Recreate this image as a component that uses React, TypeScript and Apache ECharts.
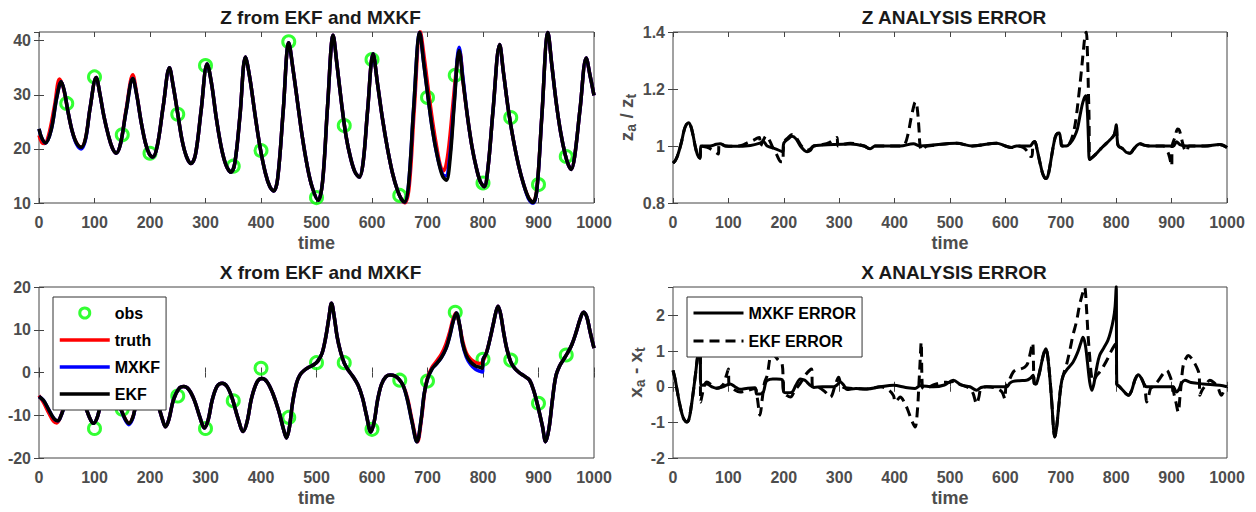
import React, { useEffect, useRef } from "react";
import * as echarts from "echarts";

type Pt = [number, number];

const FONT = "'Liberation Sans', Arial, Helvetica, sans-serif";
const BOX = "#444444";
const LABEL_COLOR = "#4d4d4d";

// ---------- titles ----------
const titleTexts = ["Z from EKF and MXKF", "Z ANALYSIS ERROR", "X from EKF and MXKF", "X ANALYSIS ERROR"];

// ---------- observations ----------
const obsTimes = [50, 100, 150, 200, 250, 300, 350, 400, 450, 500, 550, 600, 650, 700, 750, 800, 850, 900, 950];
const zObs = [28.4, 33.3, 22.6, 19.2, 26.4, 35.4, 16.8, 19.7, 39.8, 11.0, 24.3, 36.5, 11.4, 29.5, 33.6, 13.7, 25.8, 13.4, 18.6];
const xObs = [-5.3, -13.1, -8.6, -4.1, -5.5, -13.1, -6.6, 1.0, -10.5, 2.3, 2.3, -13.3, -1.8, -2.0, 14.1, 3.1, 2.9, -7.2, 4.1];

// ---------- Z (EKF) ----------
const zEkf: Pt[] = [
  [0, 23.7], [5, 22.0], [12, 21.1], [22, 23.5], [32, 29.5], [40, 32.4], [46, 30.5], [52, 27.0], [60, 23.2], [68, 21.0],
  [76, 20.3], [84, 22.0], [92, 27.5], [103, 33.2], [110, 30.0], [117, 26.0], [125, 22.5], [132, 20.2], [139, 19.2], [147, 21.0],
  [157, 27.0], [169, 33.0], [176, 30.0], [184, 25.0], [192, 21.0], [199, 19.0], [205, 18.5], [213, 20.5], [224, 28.0], [235, 35.0],
  [242, 31.5], [250, 26.5], [258, 21.5], [266, 18.5], [274, 17.3], [282, 19.0], [292, 27.0], [303, 35.7], [311, 32.0], [319, 26.0],
  [328, 20.5], [337, 17.0], [346, 15.7], [353, 17.5], [362, 26.0], [372, 37.0], [380, 33.0], [389, 26.5], [398, 20.5], [408, 15.5],
  [416, 13.0], [423, 12.2], [430, 14.5], [440, 27.0], [450, 39.6], [458, 34.5], [466, 28.5], [474, 22.5], [483, 17.0], [492, 13.0],
  [503, 10.5], [511, 14.0], [520, 28.0], [530, 41.0], [537, 35.5], [545, 28.5], [553, 22.5], [561, 18.5], [569, 15.8], [577, 14.8],
  [584, 17.5], [592, 27.0], [602, 37.6], [610, 32.0], [619, 25.5], [628, 20.0], [637, 15.5], [646, 12.3], [653, 10.7], [659, 10.2],
  [666, 13.5], [675, 27.5], [686, 41.5], [693, 36.0], [701, 29.5], [709, 23.5], [718, 18.5], [727, 15.0], [734, 14.2], [741, 18.5],
  [748, 28.0], [757, 38.2], [764, 32.5], [772, 26.0], [780, 20.5], [788, 16.5], [795, 14.0], [802, 13.0], [809, 16.5], [818, 27.0],
  [830, 39.3], [837, 34.0], [846, 27.0], [855, 21.5], [864, 17.0], [873, 13.5], [882, 11.0], [890, 10.1], [897, 12.5], [906, 26.0],
  [917, 41.5], [924, 35.5], [932, 28.5], [940, 23.0], [948, 19.0], [954, 17.0], [959, 16.2], [965, 18.5], [975, 27.5], [986, 36.8],
  [993, 33.5], [1000, 29.9],
];
// where truth / MXKF depart from the EKF curve
const zTruthParts: Pt[][] = [
  [[0, 22.5], [5, 21.2], [10, 21.0], [18, 22.8], [28, 28.0], [37, 32.9], [44, 31.2], [52, 27.0]],
  [[157, 27.3], [169, 33.7], [176, 30.2]],
  [[659, 10.0], [667, 13.0], [676, 27.0], [687, 41.7], [694, 37.0], [702, 30.5], [710, 24.5], [718, 19.5], [723, 17.0], [728, 15.9],
   [733, 16.8], [739, 21.0], [746, 28.5], [754, 36.5], [758, 38.0], [764, 32.5]],
];
const zMxParts: Pt[][] = [
  [[68, 20.8], [76, 20.0], [84, 21.8]],
  [[718, 18.5], [727, 15.3], [733, 15.0], [740, 18.5], [748, 28.5], [757, 38.8], [764, 33.0]],
  [[882, 10.8], [890, 9.9], [897, 12.3]],
];

// ---------- X (EKF) ----------
const xEkf: Pt[] = [
  [0, -5.6], [8, -6.5], [18, -8.8], [27, -10.8], [34, -11.3], [40, -10.0], [46, -7.8], [52, -6.0], [58, -4.9], [64, -4.5],
  [72, -5.2], [82, -7.5], [91, -10.5], [98, -11.9], [105, -10.5], [112, -7.0], [120, -4.9], [127, -4.4], [135, -5.2], [145, -7.8],
  [155, -10.8], [162, -11.9], [169, -10.5], [176, -7.0], [186, -4.7], [196, -4.1], [204, -4.8], [213, -7.0], [222, -10.8], [228, -12.7],
  [234, -11.0], [242, -6.5], [252, -3.8], [261, -3.3], [270, -4.0], [280, -6.5], [290, -10.5], [298, -13.0], [305, -11.0], [312, -6.5],
  [321, -3.2], [330, -2.5], [339, -3.3], [348, -6.0], [358, -10.5], [368, -13.8], [375, -11.5], [383, -6.0], [393, -2.2], [402, -1.4],
  [411, -2.2], [421, -4.8], [432, -9.0], [441, -13.5], [446, -15.3], [451, -13.0], [457, -7.0], [464, -2.5], [470, -0.6], [477, 0.4],
  [486, 1.2], [495, 1.8], [502, 2.6], [510, 4.5], [517, 8.5], [522, 12.5], [527, 16.2], [532, 13.0], [537, 8.5], [543, 5.0],
  [550, 2.2], [558, 0.4], [566, -1.0], [575, -3.0], [583, -6.0], [590, -10.0], [598, -13.9], [604, -11.5], [610, -6.5], [617, -2.8],
  [625, -1.0], [633, -0.6], [641, -0.8], [648, -1.5], [656, -3.0], [664, -6.5], [672, -11.5], [681, -16.2], [688, -11.5], [694, -5.0],
  [700, -1.5], [708, 0.8], [716, 2.0], [725, 3.5], [733, 5.5], [740, 8.5], [746, 11.8], [752, 13.9], [758, 11.0], [763, 7.0],
  [770, 4.0], [778, 2.4], [786, 1.6], [794, 1.2], [799, 1.0], [800, 3.0], [806, 4.5], [812, 7.5], [818, 11.0], [823, 14.0],
  [827, 15.5], [832, 13.5], [837, 9.5], [843, 5.5], [850, 2.5], [857, 1.0], [865, 0.0], [874, -0.8], [884, -1.8], [892, -4.5],
  [900, -8.5], [907, -12.5], [913, -16.2], [919, -13.0], [925, -6.5], [931, -1.0], [938, 1.5], [945, 3.0], [952, 4.5], [960, 6.5],
  [968, 9.5], [975, 12.5], [981, 14.1], [987, 13.0], [993, 9.5], [1000, 5.7],
];
const xTruthParts: Pt[][] = [
  [[0, -5.4], [8, -7.0], [18, -9.6], [26, -11.4], [32, -11.8], [38, -10.6], [45, -8.0], [52, -6.0]],
  [[664, -6.0], [672, -11.0], [682, -16.2], [689, -11.0], [695, -4.5], [700, -1.2], [708, 1.2], [716, 2.6], [725, 4.3], [733, 6.6],
   [740, 9.5], [746, 12.5], [751, 13.9], [757, 11.6], [763, 7.6], [770, 4.6], [778, 3.1], [786, 2.4], [794, 2.1], [800, 2.6], [806, 4.6]],
];
const xMxParts: Pt[][] = [
  [[155, -11.0], [162, -12.2], [169, -10.7]],
  [[763, 6.8], [770, 3.6], [778, 1.8], [786, 0.8], [794, 0.3], [799, 0.1], [800, 3.0]],
];

// ---------- Z analysis error ----------
const zErrMx: Pt[] = [
  [0, 0.94], [4, 0.948], [8, 0.965], [12, 0.99], [16, 1.02], [20, 1.055], [24, 1.075], [28, 1.082], [32, 1.07], [36, 1.04],
  [40, 1.0], [44, 0.97], [47, 0.96], [49, 0.957], [50, 1.0], [67, 1.0], [78, 1.006], [85, 1.008], [95, 1.0], [109, 0.999],
  [140, 1.002], [157, 1.01], [163, 1.016], [170, 1.0], [185, 0.99], [198, 0.98], [200, 1.01], [208, 1.025], [215, 1.034], [222, 1.025],
  [230, 1.0], [237, 0.985], [242, 0.98], [248, 0.985], [254, 1.0], [290, 1.005], [320, 1.007], [345, 1.0], [356, 0.99], [365, 1.0],
  [410, 1.0], [434, 1.008], [446, 1.0], [512, 1.01], [540, 1.0], [584, 1.01], [600, 1.0], [611, 0.995], [620, 1.0], [644, 1.0],
  [650, 1.012], [653, 1.016], [657, 0.99], [662, 0.945], [667, 0.905], [671, 0.888], [674, 0.886], [678, 0.905], [683, 0.96], [688, 1.015],
  [692, 1.04], [697, 1.046], [700, 1.02], [702, 1.0], [710, 1.0], [718, 1.012], [724, 1.03], [730, 1.06], [735, 1.11], [740, 1.155],
  [745, 1.176], [748, 1.12], [750, 1.02], [752, 0.953], [758, 0.962], [765, 0.975], [772, 0.99], [780, 1.005], [788, 1.02], [795, 1.035],
  [798, 1.05], [800, 1.075], [802, 1.02], [804, 1.0], [812, 0.99], [818, 0.978], [825, 0.975], [832, 0.99], [838, 1.003], [843, 1.008],
  [850, 1.003], [861, 1.0], [903, 1.0], [909, 1.015], [915, 1.005], [927, 1.0], [960, 1.0], [987, 1.005], [1000, 0.995],
];
const zErrEkfParts: Pt[][] = [
  [[50, 1.0], [62, 0.995], [72, 0.985], [82, 0.972], [83, 1.006], [85, 1.008]],
  [[109, 0.999], [125, 1.003], [135, 1.012], [145, 1.02], [152, 1.028], [156, 1.03], [158, 1.0], [163, 1.02], [168, 1.035], [174, 1.02],
   [180, 0.995], [187, 0.97], [195, 0.945], [198, 0.945], [200, 1.01], [208, 1.03], [215, 1.04], [222, 1.03], [230, 1.005], [237, 0.99],
   [242, 0.985], [248, 0.99], [254, 1.0]],
  [[254, 1.0], [270, 1.005], [282, 1.012], [292, 1.025], [296, 1.03], [298, 1.0], [320, 1.01]],
  [[410, 1.0], [418, 1.005], [424, 1.04], [430, 1.1], [436, 1.15], [438, 1.155], [441, 1.13], [444, 1.06], [446, 1.0], [449, 0.985],
   [454, 0.995], [460, 1.0]],
  [[620, 1.0], [632, 0.995], [640, 0.98], [646, 0.963], [648, 0.963], [650, 1.012]],
  [[710, 1.0], [716, 1.01], [722, 1.04], [727, 1.09], [732, 1.17], [737, 1.26], [741, 1.34], [744, 1.39], [746, 1.4], [748, 1.33],
   [750, 1.18], [751, 1.1], [752, 0.953]],
  [[861, 1.0], [885, 1.0], [893, 0.98], [897, 0.955], [900, 0.93], [901, 1.0], [906, 1.03], [911, 1.06], [914, 1.055], [918, 1.025],
   [923, 0.99], [927, 0.98], [932, 1.0], [960, 1.0]],
];

// ---------- X analysis error ----------
const xErrMx: Pt[] = [
  [0, 0.46], [4, 0.2], [8, -0.15], [12, -0.48], [16, -0.75], [20, -0.92], [25, -0.99], [29, -0.9], [33, -0.55], [37, -0.1],
  [41, 0.4], [44, 0.8], [47, 1.1], [49, 1.2], [50, 0.04], [55, 0.05], [61, 0.08], [70, 0.0], [79, -0.04], [90, 0.0],
  [103, 0.08], [112, 0.0], [121, -0.07], [135, -0.04], [148, -0.03], [151, -0.2], [157, -0.2], [163, -0.15], [167, 0.1], [170, 0.18],
  [180, 0.22], [187, 0.22], [197, 0.2], [200, -0.15], [208, -0.17], [215, -0.15], [222, 0.05], [230, 0.22], [235, 0.2], [239, 0.17],
  [247, 0.05], [254, -0.02], [270, 0.0], [290, 0.0], [296, 0.05], [302, 0.13], [308, 0.05], [314, -0.08], [330, -0.05], [350, -0.06],
  [375, 0.0], [398, 0.04], [420, -0.02], [437, -0.05], [446, 0.03], [470, 0.0], [490, 0.05], [506, 0.18], [520, 0.05], [536, 0.0],
  [548, -0.1], [556, -0.02], [566, 0.0], [602, 0.0], [608, 0.1], [614, 0.15], [625, 0.17], [638, 0.18], [645, 0.24], [650, 0.32],
  [652, 0.1], [655, 0.08], [660, 0.3], [665, 0.65], [669, 0.92], [673, 1.07], [676, 0.9], [680, 0.3], [684, -0.5], [687, -1.2],
  [689, -1.41], [692, -1.2], [696, -0.6], [700, 0.0], [704, 0.3], [712, 0.5], [722, 0.69], [730, 0.95], [736, 1.22], [740, 1.39],
  [744, 1.2], [748, 0.7], [752, 0.15], [756, -0.1], [760, 0.1], [765, 0.55], [770, 0.88], [778, 1.1], [785, 1.3], [790, 1.55],
  [795, 1.9], [798, 2.25], [800, 2.82], [801, 0.08], [806, 0.0], [812, -0.1], [818, -0.2], [822, -0.24], [828, -0.1], [834, 0.2],
  [840, 0.34], [845, 0.25], [850, 0.08], [855, 0.0], [866, 0.0], [903, 0.0], [906, -0.08], [909, -0.15], [914, -0.05], [918, 0.1],
  [924, 0.18], [935, 0.12], [957, 0.08], [987, 0.04], [1000, 0.0],
];
const xErrEkfParts: Pt[][] = [
  [[50, -0.43], [53, -0.2], [57, 0.05], [61, 0.13], [70, 0.05], [79, -0.04]],
  [[90, 0.05], [96, 0.3], [100, 0.5], [101, 0.05], [110, -0.08], [121, -0.15], [135, -0.1], [148, -0.05]],
  [[148, -0.05], [152, -0.3], [157, -0.8], [161, -0.35], [165, 0.1], [170, 0.32], [175, 0.8], [178, 0.93], [183, 0.88], [190, 0.75],
   [197, 0.64], [200, -0.15], [206, -0.25], [212, -0.29], [220, -0.1], [230, 0.1], [240, 0.35], [250, 0.5], [252, 0.0], [263, -0.02],
   [275, -0.15], [284, -0.29], [292, 0.0], [299, 0.27], [302, 0.13], [308, -0.02], [330, -0.05]],
  [[375, 0.0], [390, -0.1], [398, -0.25], [401, -0.43], [406, -0.35], [410, -0.29], [418, -0.45], [425, -0.7], [431, -0.95], [437, -1.13],
   [441, -0.7], [444, 0.1], [446, 0.7], [448, 1.25], [450, 0.0], [453, -0.06], [470, 0.05]],
  [[470, 0.05], [480, 0.1], [488, 0.13], [498, 0.12], [506, 0.15], [520, 0.05], [536, -0.05], [542, -0.2], [548, -0.48], [552, -0.3],
   [556, -0.05], [566, 0.0], [585, -0.05], [594, -0.15], [599, -0.34], [601, 0.0], [606, 0.15], [614, 0.41], [620, 0.48], [628, 0.5],
   [635, 0.55], [640, 0.65], [645, 0.95], [649, 1.23], [652, 0.1]],
  [[700, 0.0], [704, 0.3], [710, 0.6], [716, 1.0], [722, 1.45], [728, 1.81], [734, 2.3], [739, 2.6], [743, 2.79], [746, 2.3],
   [749, 1.5], [752, 0.88], [755, 0.35], [758, 0.15], [764, 0.3], [770, 0.41], [778, 0.6], [785, 0.8], [791, 1.0], [797, 1.16],
   [800, 1.22], [801, 0.08]],
  [[850, 0.08], [853, -0.2], [855, -0.43], [858, -0.3], [862, -0.05], [866, 0.0], [875, 0.15], [884, 0.35], [891, 0.46], [897, 0.3],
   [901, 0.1], [903, -0.1], [908, -0.45], [912, -0.71], [915, -0.3], [918, 0.2], [921, 0.6], [926, 0.8], [930, 0.88], [936, 0.8],
   [942, 0.65], [948, 0.45], [950, 0.3], [951, -0.24], [955, -0.1], [962, 0.05], [969, 0.18], [976, 0.12], [983, 0.0], [990, -0.24],
   [995, -0.1], [1000, 0.0]],
];

// replace the base curve inside each part's time span with that part
function patch(base: Pt[], parts: Pt[][]): Pt[] {
  let out = base.slice();
  for (const seg of parts) {
    const t0 = seg[0][0];
    const t1 = seg[seg.length - 1][0];
    out = out.filter((p) => p[0] < t0 || p[0] > t1).concat(seg);
  }
  return out.sort((a, b) => a[0] - b[0]);
}

const zTruth = patch(zEkf, zTruthParts);
const zMx = patch(zEkf, zMxParts);
const xTruth = patch(xEkf, xTruthParts);
const xMx = patch(xEkf, xMxParts);
const zErrEkf = patch(zErrMx, zErrEkfParts);
const xErrEkf = patch(xErrMx, xErrEkfParts);

// ---------- layout ----------
const grids = [
  { left: 39, top: 32, width: 555, height: 171 },
  { left: 673, top: 32, width: 554, height: 171 },
  { left: 39, top: 287, width: 555, height: 171 },
  { left: 673, top: 287, width: 554, height: 171 },
];

const plain = (v: number) => String(Math.round(v * 1000) / 1000);
const LABEL = { color: LABEL_COLOR, fontSize: 16, fontWeight: "bold", fontFamily: FONT, formatter: plain };
const TICK = { inside: true, length: 5, lineStyle: { color: BOX, width: 1 } };

function xPair(gi: number) {
  return [
    {
      type: "value", gridIndex: gi, min: 0, max: 1000, interval: 100, position: "bottom",
      axisLine: { show: false }, axisTick: TICK, splitLine: { show: false },
      axisLabel: { ...LABEL, margin: 11 },
      name: "time", nameLocation: "middle", nameGap: 31,
      nameTextStyle: { color: LABEL_COLOR, fontSize: 18, fontWeight: "bold", fontFamily: FONT },
    },
    {
      type: "value", gridIndex: gi, min: 0, max: 1000, interval: 100, position: "top",
      axisLine: { show: false }, axisTick: TICK, splitLine: { show: false }, axisLabel: { show: false },
    },
  ];
}

function yPair(gi: number, min: number, max: number, interval: number, showMax: boolean, extra: any = {}) {
  return [
    {
      type: "value", gridIndex: gi, min, max, interval, position: "left",
      axisLine: { show: false }, axisTick: TICK, splitLine: { show: false },
      axisLabel: { ...LABEL, margin: 8, showMaxLabel: showMax },
      ...extra,
    },
    {
      type: "value", gridIndex: gi, min, max, interval, position: "right",
      axisLine: { show: false }, axisTick: TICK, splitLine: { show: false }, axisLabel: { show: false },
    },
  ];
}

function yName(a: string, op: string, gap: number) {
  return {
    name: `{m|${a}}{s|a}{m| ${op} ${a}}{s|t}`,
    nameLocation: "middle",
    nameRotate: 90,
    nameGap: gap,
    nameTextStyle: {
      color: LABEL_COLOR,
      fontFamily: FONT,
      fontWeight: "bold",
      rich: {
        m: { fontSize: 19, fontWeight: "bold", color: LABEL_COLOR, fontFamily: FONT, lineHeight: 19 },
        s: { fontSize: 14, fontWeight: "bold", color: LABEL_COLOR, fontFamily: FONT, lineHeight: 14, padding: [9, 0, 0, 0] },
      },
    },
  };
}

function line(name: string, data: Pt[], color: string, gi: number, width: number, dashed = false) {
  return {
    type: "line", name, data, xAxisIndex: gi * 2, yAxisIndex: gi * 2,
    symbol: "none", showSymbol: false, smooth: 0.35, clip: true, silent: true,
    lineStyle: { color, width, type: dashed ? [10, 6] : "solid", cap: "butt", join: "round" },
    itemStyle: { color },
    emphasis: { disabled: true },
  };
}

function obs(values: number[], gi: number) {
  return {
    type: "scatter", name: "obs", data: obsTimes.map((t, i) => [t, values[i]]),
    xAxisIndex: gi * 2, yAxisIndex: gi * 2, symbol: "circle", symbolSize: 12, silent: true, clip: false,
    itemStyle: { color: "rgba(0,0,0,0)", borderColor: "#00ff00", borderWidth: 3 },
    emphasis: { disabled: true },
  };
}

const titleTops = [8, 8, 263, 263];

const option: any = {
  animation: false,
  backgroundColor: "#ffffff",
  title: titleTexts.map((text, i) => ({
    text,
    left: grids[i].left + grids[i].width / 2 + 4,
    top: titleTops[i],
    textAlign: "center",
    padding: 0,
    textStyle: { fontSize: 19, fontWeight: "bold", color: "#1a1a1a", fontFamily: FONT },
  })),
  legend: [
    {
      orient: "vertical", left: 53, top: 297, itemWidth: 50, itemHeight: 10, itemGap: 11,
      padding: [8, 6, 8, 5], borderColor: "#333", borderWidth: 1, backgroundColor: "#fff", borderRadius: 0,
      selectedMode: false,
      textStyle: { color: "#000", fontSize: 16, fontWeight: "bold", fontFamily: FONT },
      lineStyle: { width: 3.5 },
      itemStyle: { color: "rgba(0,0,0,0)", borderWidth: 0 },
      data: [
        { name: "obs", icon: "circle", itemStyle: { color: "rgba(0,0,0,0)", borderColor: "#00ff00", borderWidth: 3 } },
        { name: "truth" }, { name: "MXKF" }, { name: "EKF" },
      ],
    },
    {
      orient: "vertical", left: 687, top: 297, itemWidth: 50, itemHeight: 10, itemGap: 12,
      padding: [8, 6, 8, 5], borderColor: "#333", borderWidth: 1, backgroundColor: "#fff", borderRadius: 0,
      selectedMode: false,
      textStyle: { color: "#000", fontSize: 16, fontWeight: "bold", fontFamily: FONT },
      lineStyle: { width: 3 },
      itemStyle: { color: "rgba(0,0,0,0)", borderWidth: 0 },
      data: [{ name: "MXKF ERROR" }, { name: "EKF ERROR" }],
    },
  ],
  grid: grids.map((g) => ({
    ...g, show: true, borderColor: BOX, borderWidth: 1, backgroundColor: "rgba(0,0,0,0)",
    containLabel: false, outerBoundsMode: "none",
  })),
  xAxis: [...xPair(0), ...xPair(1), ...xPair(2), ...xPair(3)],
  yAxis: [
    ...yPair(0, 10, 41.6, 10, false),
    ...yPair(1, 0.8, 1.4, 0.2, true, yName("z", "/", 37)),
    ...yPair(2, -20, 20, 10, true),
    ...yPair(3, -2, 2.8, 1, false, yName("x", "-", 28)),
  ],
  series: [
    obs(zObs, 0),
    line("truth", zTruth, "#ff0000", 0, 3.5),
    line("MXKF", zMx, "#0000ff", 0, 3.5),
    line("EKF", zEkf, "#000000", 0, 3.5),
    line("MXKF ERROR", zErrMx, "#000000", 1, 3),
    line("EKF ERROR", zErrEkf, "#000000", 1, 3, true),
    obs(xObs, 2),
    line("truth", xTruth, "#ff0000", 2, 3.5),
    line("MXKF", xMx, "#0000ff", 2, 3.5),
    line("EKF", xEkf, "#000000", 2, 3.5),
    line("MXKF ERROR", xErrMx, "#000000", 3, 3),
    line("EKF ERROR", xErrEkf, "#000000", 3, 3, true),
  ],
};

export default function App() {
  const ref = useRef<HTMLDivElement>(null);
  useEffect(() => {
    document.body.style.margin = "0";
    const chart = echarts.init(ref.current as HTMLDivElement, null, { renderer: "svg" });
    chart.setOption(option);
    return () => chart.dispose();
  }, []);
  return <div ref={ref} style={{ width: 1256, height: 512, background: "#fff" }} />;
}
